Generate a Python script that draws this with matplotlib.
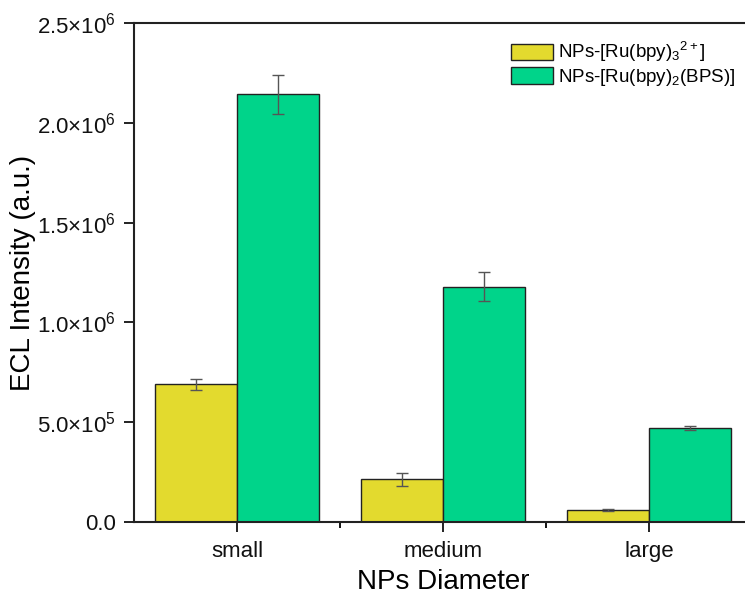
import numpy as np
import matplotlib
matplotlib.use("Agg")
import matplotlib.pyplot as plt
from matplotlib.ticker import FuncFormatter, FixedLocator

plt.rcParams["font.family"] = ["Liberation Sans", "DejaVu Sans"]
plt.rcParams["mathtext.fontset"] = "custom"
plt.rcParams["mathtext.rm"] = "Liberation Sans"
plt.rcParams["mathtext.it"] = "Liberation Sans:italic"
plt.rcParams["mathtext.bf"] = "Liberation Sans:bold"

categories = ["small", "medium", "large"]
ru_bpy3 = [6.9e5, 2.15e5, 6.2e4]
ru_bpy3_err = [2.8e4, 3.2e4, 5e3]
ru_bpy2_bps = [2.143e6, 1.179e6, 4.7e5]
ru_bpy2_bps_err = [9.7e4, 7.2e4, 1.0e4]

labels = [r"NPs-[Ru(bpy)$_3$$^{2+}$]", r"NPs-[Ru(bpy)$_2$(BPS)]"]
colors = ["#E3DA2E", "#00D48A"]


def sci_fmt(v, pos):
    if v == 0:
        return "0.0"
    exp = int(np.floor(np.log10(abs(v))))
    mant = v / 10 ** exp
    return r"%.1f$\times$10$^{%d}$" % (mant, exp)


fig = plt.figure(figsize=(7.45, 5.99), dpi=100)
ax = fig.add_axes([0.18, 0.1285, 0.8295, 0.833])

x = np.arange(len(categories))
width = 0.40
err_kw = dict(ecolor="#555555", elinewidth=1, capsize=4, capthick=1)
ax.bar(x - width / 2, ru_bpy3, width, yerr=ru_bpy3_err, color=colors[0],
       edgecolor="#222222", linewidth=1, label=labels[0], error_kw=err_kw)
ax.bar(x + width / 2, ru_bpy2_bps, width, yerr=ru_bpy2_bps_err, color=colors[1],
       edgecolor="#222222", linewidth=1, label=labels[1], error_kw=err_kw)

ax.set_xlim(-0.5, 2.5)
ax.set_ylim(0, 2.5e6)
ax.set_xticks(x)
ax.set_xticklabels(categories)
ax.xaxis.set_minor_locator(FixedLocator([0.5, 1.5]))
ax.set_yticks(np.arange(0, 2.51e6, 5e5))
ax.yaxis.set_major_formatter(FuncFormatter(sci_fmt))

ax.tick_params(axis="both", which="major", direction="out", length=7, width=1.3,
               labelsize=16, colors="#111111")
ax.tick_params(axis="x", which="minor", direction="out", length=4, width=1.3)
ax.tick_params(axis="x", which="major", pad=7)
ax.tick_params(axis="y", which="major", pad=6)
for s in ax.spines.values():
    s.set_linewidth(1.5)
    s.set_color("#222222")

ax.set_xlabel("NPs Diameter", fontsize=20)
ax.set_ylabel("ECL Intensity (a.u.)", fontsize=20)
ax.xaxis.set_label_coords(0.5, -0.094)
ax.yaxis.set_label_coords(-0.158, 0.5)

ax.legend(loc="upper left", bbox_to_anchor=(502 / 745, 1 - 31 / 599),
          bbox_transform=fig.transFigure, frameon=False, fontsize=13.5,
          handlelength=2.2, handleheight=1.0, handletextpad=0.3,
          labelspacing=0.15, borderpad=0)

fig.savefig("out.png", dpi=100)
